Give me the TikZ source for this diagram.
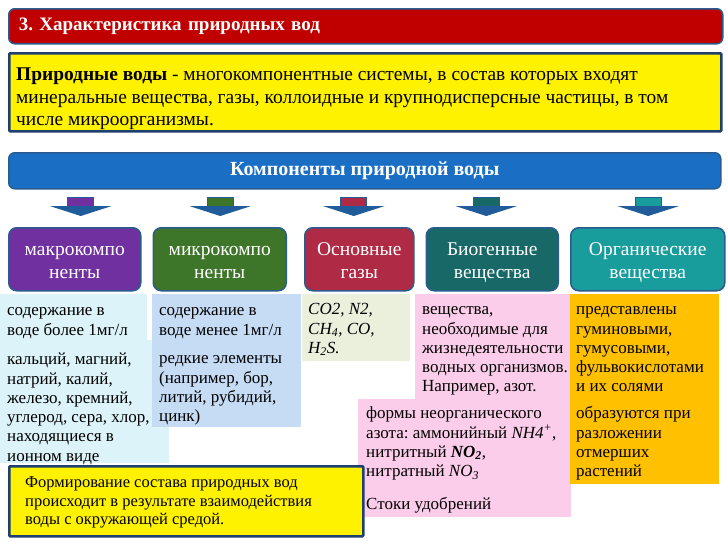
\documentclass[tikz,border=0pt]{standalone}
\usepackage{fontspec}
\setmainfont{Liberation Serif}
\usepackage{xcolor}
\usetikzlibrary{positioning, calc}
\frenchspacing

\definecolor{titlered}{HTML}{C00000}
\definecolor{edgeblue}{HTML}{2A5C8F}
\definecolor{navy}{HTML}{1F3F6F}
\definecolor{compblue}{HTML}{1A6FC4}
\definecolor{arrowblue}{HTML}{1F5C99}
\definecolor{macrocol}{HTML}{7030A0}
\definecolor{microcol}{HTML}{3D7629}
\definecolor{gascol}{HTML}{AE2A45}
\definecolor{biocol}{HTML}{186868}
\definecolor{orgcol}{HTML}{199C9C}
\definecolor{cyanp}{HTML}{DCF3F9}
\definecolor{bluep}{HTML}{C6DCF5}
\definecolor{gasp}{HTML}{EBF0DD}
\definecolor{pinkp}{HTML}{FBCDEA}
\definecolor{orangep}{HTML}{FFC000}

\begin{document}
\begin{tikzpicture}[
    x=1pt, y=-1pt,
    bar/.style={draw=edgeblue, line width=1.5pt, rounded corners=6pt, text=white,
      font=\fontsize{19}{22}\selectfont\bfseries, anchor=north west},
    ybox/.style={draw=navy, line width=2.5pt, fill=yellow, anchor=north west, rounded corners=1pt},
    catbox/.style={draw=edgeblue, line width=1.5pt, rounded corners=8pt, text=white,
      align=center, minimum height=63pt, inner sep=0pt, font=\fontsize{19.5}{23}\selectfont},
    txt/.style={anchor=north west, inner sep=0pt, align=left, font=\fontsize{17}{19.3}\selectfont}
]
\useasboundingbox (0,0) rectangle (728,546);
\fill[white] (0,0) rectangle (728,546);

% header
\node[bar, fill=titlered, text width=694pt, inner xsep=10pt, minimum height=35pt, align=left]
  (title) at (8,8) {3. Характеристика природных вод};
\node[ybox, minimum width=712pt, minimum height=78pt] (defn) at (8,52) {};
\node[txt, font=\fontsize{19.4}{22.5}\selectfont] (defntext) at (16,65)
  {\strut\textbf{Природные воды} - многокомпонентные системы, в состав которых входят\\
   минеральные вещества, газы, коллоидные и крупнодисперсные частицы, в том\\
   числе микроорганизмы.};
\node[bar, fill=compblue, minimum width=712pt, minimum height=36pt, font=\fontsize{20}{22}\selectfont\bfseries]
  (comp) at (8,152) {Компоненты природной воды};

% component boxes
\node[catbox, fill=macrocol, minimum width=132pt, anchor=north west] (macro) at (8,227) {\rule{0pt}{22pt}макрокомпо\\ненты\strut};
\node[catbox, fill=microcol, minimum width=133pt, right=11pt of macro] (micro) {\rule{0pt}{22pt}микрокомпо\\ненты\strut};
\node[catbox, fill=gascol, minimum width=109pt, right=17pt of micro] (gas) {\rule{0pt}{22pt}Основные\\газы\strut};
\node[catbox, fill=biocol, minimum width=132pt, right=11pt of gas] (bio) {\rule{0pt}{22pt}Биогенные\\вещества\strut};
\node[catbox, fill=orgcol, minimum width=154pt, right=11pt of bio] (org) {\rule{0pt}{22pt}Органические\\вещества\strut};

% block arrows
\foreach \b/\c/\dx in {macro/macrocol/6, micro/microcol/0.5, gas/gascol/-5.5, bio/biocol/-6, org/orgcol/0.5} {
  \coordinate (t\b) at ($(\b.north)+(\dx,-11)$);
  \filldraw[fill=\c, draw=arrowblue, line width=1pt] ($(t\b)+(-13,-19)$) rectangle ($(t\b)+(13,-9)$);
  \fill[arrowblue] ($(t\b)+(-31,-10)$) -- ($(t\b)+(31,-10)$) -- (t\b) -- cycle;
}

% panels
\fill[cyanp] (0,294) rectangle (147,340);
\fill[cyanp] (0,340) rectangle (169,463);
\fill[bluep] (152,294) rectangle (301,427);
\fill[gasp] (302,294) rectangle (410,361);
\fill[pinkp] (415,294) rectangle (571,399);
\fill[pinkp] (358,399) rectangle (571,517);
\fill[orangep] (570,294) rectangle (719,484);

\node[txt] (macroa) at (7,302) {\strut содержание в\\воде более 1мг/л};
\node[txt] (macrob) at (7,351) {\strut кальций, магний,\\натрий, калий,\\железо, кремний,\\углерод, сера, хлор,\\находящиеся в\\ионном виде};
\node[txt] (microa) at (159,302) {\strut содержание в\\воде менее 1мг/л};
\node[txt] (microb) at (159,350) {\strut редкие элементы\\(например, бор,\\литий, рубидий,\\цинк)};
\node[txt, font=\fontsize{17}{19.3}\selectfont\itshape] (gasa) at (308,301) {\strut CO2, N2,\\CH\textsubscript{4}, CO,\\H\textsubscript{2}S.};
\node[txt] (bioa) at (422,301) {\strut вещества,\\необходимые для\\жизнедеятельности\\водных организмов.\\Например, азот.};
\node[txt] (biob) at (366,405) {\strut формы неорганического\\азота: аммонийный \textit{NH4\textsuperscript{+}},\\нитритный \textbf{\textit{NO\textsubscript{2}}},\\нитратный \textit{NO\textsubscript{3}}};
\node[txt] (bioc) at (366,496) {\strut Стоки удобрений};
\node[txt] (orga) at (576,301) {\strut представлены\\гуминовыми,\\гумусовыми,\\фульвокислотами\\и их солями};
\node[txt] (orgb) at (576,405) {\strut образуются при\\разложении\\отмерших\\растений};

% conclusion
\node[ybox, minimum width=354pt, minimum height=70pt] (formation) at (8,465) {};
\node[txt, font=\fontsize{16.5}{18.8}\selectfont] (formtext) at (25,474)
  {\strut Формирование состава природных вод\\происходит в результате взаимодействия\\воды с окружающей средой.};
\end{tikzpicture}
\end{document}
